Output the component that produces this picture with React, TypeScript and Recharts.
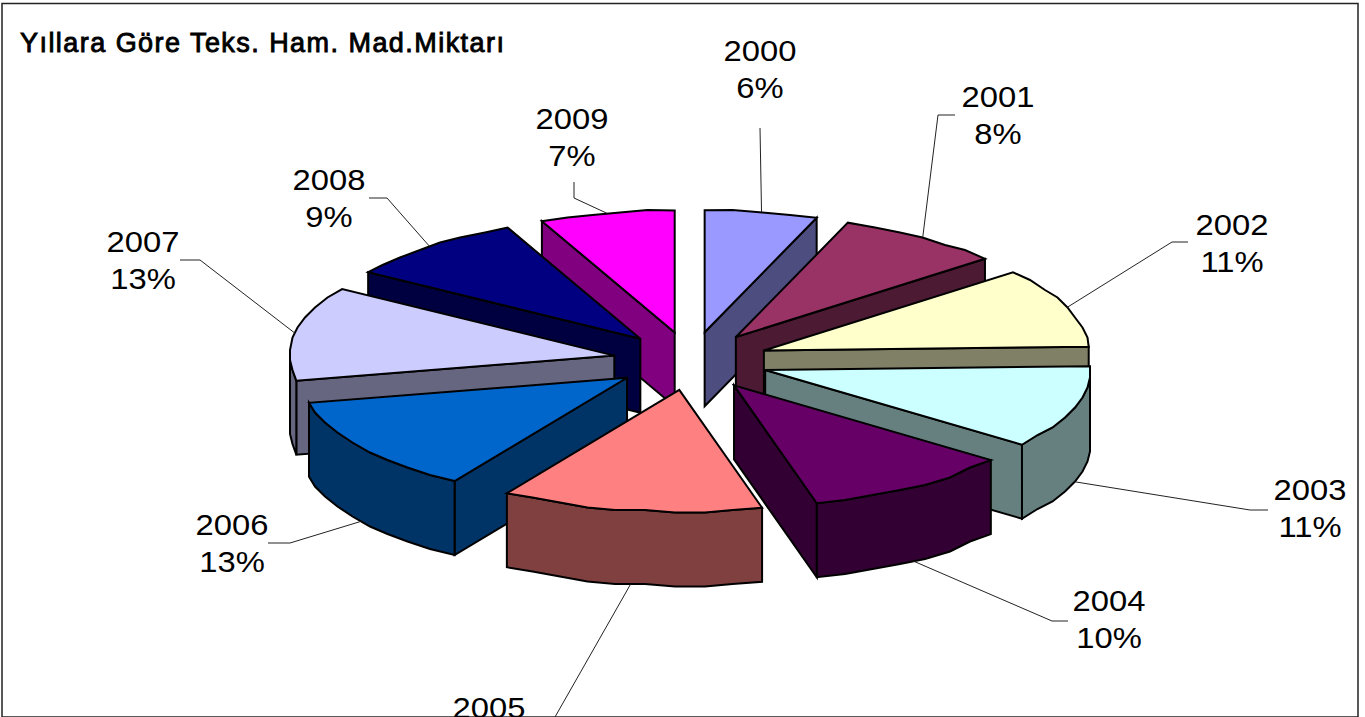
import { Pie, PieChart } from "recharts";

const years = ["2000", "2001", "2002", "2003", "2004", "2005", "2006", "2007", "2008", "2009"];
// shown labels are rounded, the picture's slices are not quite whole percents
const shares = [5.6, 8.3, 10.6, 11.0, 10.4, 13.0, 12.8, 12.5, 9.1, 6.7];
const colors = ["#9999FF", "#993366", "#FFFFCC", "#CCFFFF", "#660066", "#FF8080", "#0066CC", "#CCCCFF", "#000080", "#FF00FF"];
const sideColors = ["#4D4D80", "#4D1A33", "#808066", "#668080", "#330033", "#804040", "#003366", "#666680", "#000040", "#800080"];

// back to front, Pie draws in data order so each slice gets its own Pie
const drawOrder = ["2000", "2009", "2001", "2008", "2002", "2007", "2003", "2006", "2004", "2005"];

// label centre x / first baseline, then leader elbow and leader end
const labelX = [760, 998, 1232, 1310, 1109, 489, 232, 143, 329, 572];
const labelY = [61, 107, 235, 500, 611, 718, 535, 252, 190, 129];
const elbows = [[760, 128], [938, 115], [1172, 242], [1250, 510], [1052, 621], [555, 717], [290, 543], [200, 260], [387, 198], [574, 198]];
const leaderEnds = [[760, 128], [955, 115], [1188, 242], [1268, 510], [1068, 621], [555, 717], [268, 543], [180, 260], [369, 198], [574, 182]];

const data = years.map((year, i) => ({ year, share: shares[i], fill: colors[i], side: sideColors[i] }));

const TILT = 0.375;
const EXPLODE = 78;
const DEPTH = 74;
const RAD = Math.PI / 180;
const FONT = "'Liberation Sans', Arial, sans-serif";

type Pt = [number, number];

// the original rim is coarse and wobbly, so snap the sampled points a bit
const snap = (v: number) => Math.round(v / 2.5) * 2.5;

function toPath(pts: Pt[]) {
  return "M" + pts.map((p) => `${p[0]},${p[1]}`).join("L") + "Z";
}

function project(cx: number, cy: number, r: number, angle: number): Pt {
  return [cx + r * Math.cos(angle * RAD), cy - r * TILT * Math.sin(angle * RAD)];
}

function Slice3D(props: any) {
  const { cx, cy, outerRadius, startAngle, endAngle, midAngle, fill, side } = props;
  const [ox, oy] = project(cx, cy, EXPLODE, midAngle);
  const hi = Math.max(startAngle, endAngle);
  const lo = Math.min(startAngle, endAngle);

  const rim: Pt[] = [];
  const steps = Math.max(2, Math.round((hi - lo) / 5));
  for (let i = 0; i <= steps; i++) {
    const a = hi - ((hi - lo) * i) / steps;
    const [x, y] = project(ox, oy, outerRadius, a);
    rim.push(i === 0 || i === steps ? [x, y] : [snap(x), snap(y)]);
  }
  const apex: Pt = [ox, oy];
  const down = (p: Pt): Pt => [p[0], p[1] + DEPTH];

  const first = rim[0];
  const last = rim[rim.length - 1];
  const hiCw = (90 - hi + 720) % 360;
  const loCw = (90 - lo + 720) % 360 || 360;

  const outline = { stroke: "#000", strokeWidth: 2, strokeLinejoin: "miter" as const };

  // rim wall only on the part of the arc facing the viewer
  const front = rim.filter((_, i) => {
    const a = hi - ((hi - lo) * i) / steps;
    return Math.sin(a * RAD) <= 0.0001;
  });

  return (
    <g>
      {hiCw > 180 && hiCw < 360 && <path d={toPath([apex, first, down(first), down(apex)])} fill={side} {...outline} />}
      {loCw > 0 && loCw < 180 && <path d={toPath([apex, last, down(last), down(apex)])} fill={side} {...outline} />}
      {front.length > 1 && <path d={toPath([...front, ...front.map(down).reverse()])} fill={side} {...outline} />}
      <path d={toPath([apex, ...rim])} fill={fill} {...outline} />
    </g>
  );
}

function SliceLabel(props: any) {
  const { cx, cy, outerRadius, midAngle, index } = props;
  const [ox, oy] = project(cx, cy, EXPLODE, midAngle);
  const [rx, ry] = project(ox, oy, outerRadius, midAngle);
  const startY = Math.sin(midAngle * RAD) < 0 ? ry + DEPTH : ry;
  const [ex, ey] = elbows[index];
  const [lx, ly] = leaderEnds[index];
  const x = labelX[index];
  const y = labelY[index];
  return (
    <g>
      <polyline points={`${rx},${startY} ${ex},${ey} ${lx},${ly}`} fill="none" stroke="#222" strokeWidth={1} />
      <text transform={`translate(${x},${y}) scale(1.13,1)`} textAnchor="middle" fontFamily={FONT} fontSize={29} fill="#000">
        {years[index]}
      </text>
      <text transform={`translate(${x},${y + 37}) scale(1.13,1)`} textAnchor="middle" fontFamily={FONT} fontSize={29} fill="#000">
        {Math.round(shares[index])}%
      </text>
    </g>
  );
}

export default function App() {
  return (
    <div style={{ position: "absolute", left: 0, top: 0, width: 1365, height: 717, background: "#fff" }}>
      <PieChart width={1365} height={717} margin={{ top: 0, right: 0, bottom: 0, left: 0 }}>
        <rect x={2} y={3.5} width={1356} height={713.5} fill="#fff" stroke="#222" strokeWidth={1.5} />
        <text x={20} y={52} fontFamily={FONT} fontSize={27} stroke="#000" strokeWidth={0.9} textLength={484} lengthAdjust="spacing" fill="#000">
          Yıllara Göre Teks. Ham. Mad.Miktarı
        </text>
        {drawOrder.map((year) => (
          <Pie
            key={year}
            data={data}
            dataKey="share"
            nameKey="year"
            cx={691}
            cy={361}
            innerRadius={0}
            outerRadius={325}
            startAngle={90}
            endAngle={-270}
            isAnimationActive={false}
            labelLine={false}
            label={year === drawOrder[drawOrder.length - 1] ? SliceLabel : false}
            shape={(p: any) => (p.year === year ? <Slice3D {...p} /> : <g />)}
          />
        ))}
      </PieChart>
    </div>
  );
}
